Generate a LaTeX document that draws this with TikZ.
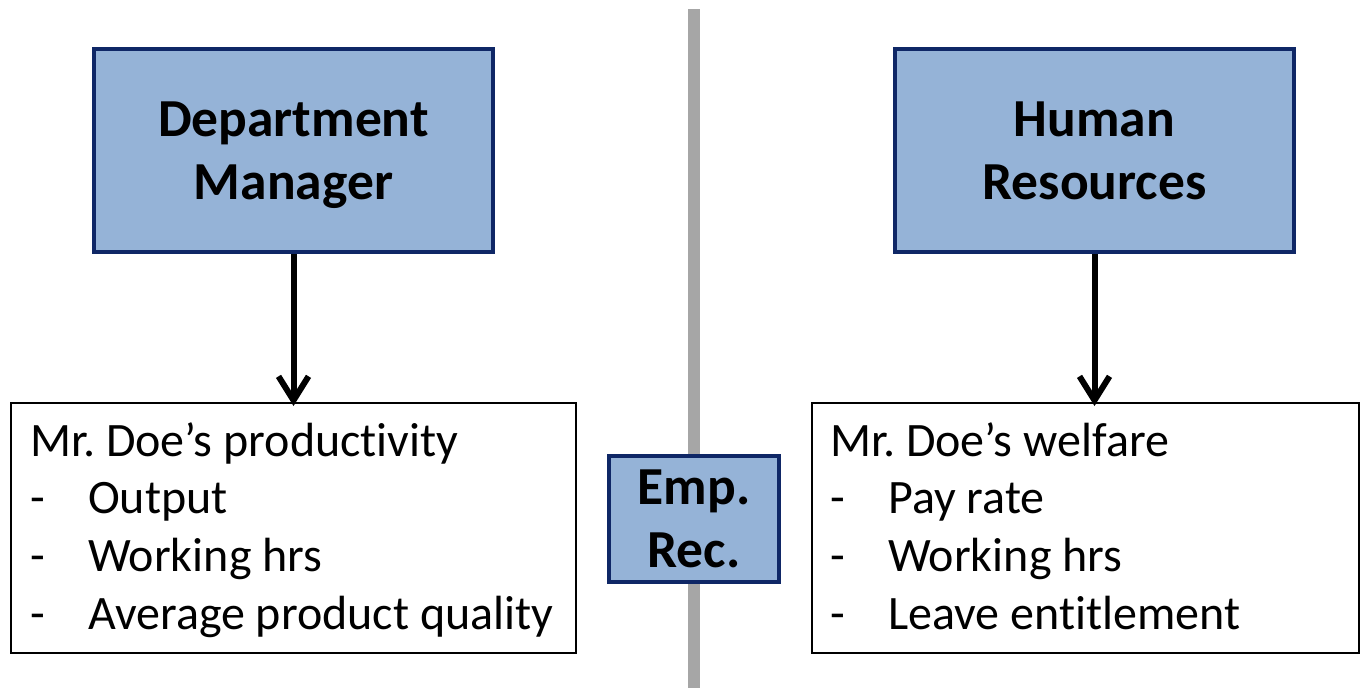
\documentclass[tikz,border=0pt]{standalone}
\usepackage{fontspec}
\setmainfont[Ligatures=NoCommon]{Carlito}
\usetikzlibrary{arrows.meta}
\definecolor{boxfill}{HTML}{95B3D7}
\definecolor{boxline}{HTML}{0F2766}
\definecolor{divider}{HTML}{A6A6A6}
\tikzset{
  titlebox/.style={draw=boxline, line width=4pt, fill=boxfill, rectangle, inner sep=0pt,
    align=center, text depth=0pt, font=\fontsize{53.5}{63}\selectfont\bfseries},
  listbox/.style={draw=black, line width=2pt, fill=white, rectangle, inner sep=0pt},
  listtext/.style={anchor=north west, inner sep=0pt, align=left, font=\fontsize{48}{57.7}\selectfont},
  flowarrow/.style={line width=6pt, -{Straight Barb[length=24pt, width=30pt, line width=6pt]}},
}
\newcommand{\bul}{\makebox[58pt][l]{-}}
\frenchspacing
\begin{document}
\begin{tikzpicture}[x=1pt, y=-1pt]
\useasboundingbox (0,0) rectangle (1362,688);
% divider
\coordinate (divtop) at (694,9);
\coordinate (divbot) at (694,688);
\draw[divider, line width=12pt] (divtop) -- (divbot);
% title boxes
\node[titlebox, minimum width=399pt, minimum height=203pt] (dm) at (293.5,150.5) {Department\\Manager};
\node[titlebox, minimum width=399pt, minimum height=203pt] (hr) at (1094.5,150.5) {Human\\Resources};
% list boxes
\node[listbox, minimum width=565pt, minimum height=250pt] (dmlist) at (293.5,528) {};
\node[listbox, minimum width=547pt, minimum height=250pt] (hrlist) at (1085.5,528) {};
\node[listtext] (dmtext) at (30,422) {Mr. Doe’s productivity\\\bul Output\\\bul Working hrs\\\bul Average product quality};
\node[listtext] (hrtext) at (830,422) {Mr. Doe’s welfare\\\bul Pay rate\\\bul Working hrs\\\bul Leave entitlement};
% middle box
\node[titlebox, minimum width=170pt, minimum height=126pt] (emp) at (694,519) {Emp.\\Rec.};
% arrows
\draw[flowarrow] (dm.south) -- ([yshift=-4pt]dm.south |- dmlist.north);
\draw[flowarrow] (hr.south) -- ([yshift=-4pt]hr.south |- hrlist.north);
\end{tikzpicture}
\end{document}
